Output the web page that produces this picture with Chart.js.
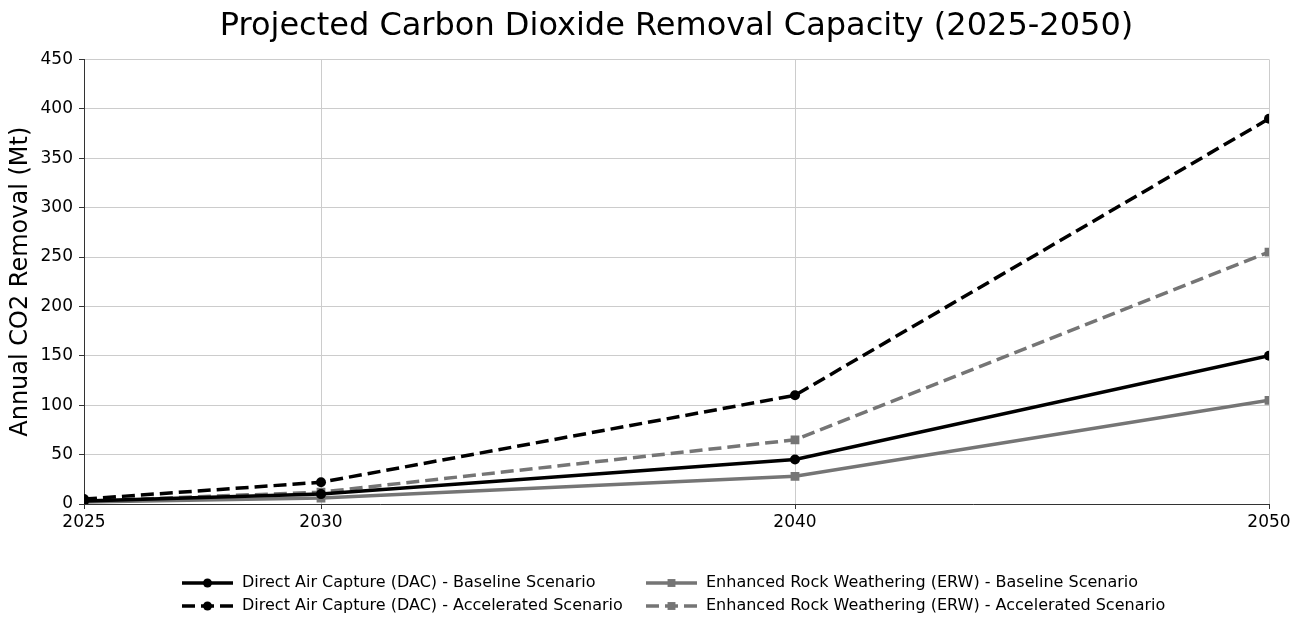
<!DOCTYPE html>
<html>
<head>
<meta charset="utf-8">
<script src="https://cdn.jsdelivr.net/npm/chart.js@4.4.1/dist/chart.umd.min.js"></script>
<style>
  html, body { margin: 0; padding: 0; background: #fff; }
  #wrap { width: 1301px; height: 631px; }
</style>
</head>
<body>
<div id="wrap"><canvas id="c" width="1301" height="631"></canvas></div>
<script>
// ---- data ----
const years = [2025, 2030, 2040, 2050];
const xTicks = [2025, 2030, 2040, 2050];
const dacBaseline = [3, 10, 45, 150];
const dacAccelerated = [5, 22, 110, 390];
const erwBaseline = [2, 6, 28, 105];
const erwAccelerated = [3, 12, 65, 255];

const BLACK = '#000000';
const GREY = '#757575';
const FONT = "'DejaVu Sans', sans-serif";

function toPoints(vals) {
  return vals.map((v, i) => ({ x: years[i], y: v }));
}

function series(label, vals, color, dashed, marker) {
  return {
    label,
    data: toPoints(vals),
    borderColor: color,
    backgroundColor: color,
    pointBackgroundColor: color,
    pointBorderColor: color,
    borderWidth: 3.5,
    borderDash: dashed ? [13, 6] : [],
    pointStyle: marker,
    pointRadius: marker === 'rect' ? 6.2 : 5,
    pointBorderWidth: 0,
    tension: 0,
    fill: false,
    clip: 0
  };
}

const datasets = [
  series('Direct Air Capture (DAC) - Baseline Scenario', dacBaseline, BLACK, false, 'circle'),
  series('Direct Air Capture (DAC) - Accelerated Scenario', dacAccelerated, BLACK, true, 'circle'),
  series('Enhanced Rock Weathering (ERW) - Baseline Scenario', erwBaseline, GREY, false, 'rect'),
  series('Enhanced Rock Weathering (ERW) - Accelerated Scenario', erwAccelerated, GREY, true, 'rect')
];

// center the title over the plot area rather than the whole canvas
const titleOverPlot = {
  id: 'titleOverPlot',
  afterLayout(chart) {
    if (chart.titleBlock) {
      chart.titleBlock.left = chart.chartArea.left;
      chart.titleBlock.right = chart.chartArea.right;
    }
  }
};

// legend laid out in two columns like the original
const columnLegend = {
  id: 'columnLegend',
  afterDraw(chart) {
    const ctx = chart.ctx;
    const colX = [182, 646];
    const rowY = [583, 606];
    ctx.save();
    chart.data.datasets.forEach((ds, i) => {
      const col = Math.floor(i / 2);
      const row = i % 2;
      const x0 = colX[col];
      const y = rowY[row];
      ctx.strokeStyle = ds.borderColor;
      ctx.lineWidth = 3.5;
      ctx.setLineDash(ds.borderDash);
      ctx.beginPath();
      ctx.moveTo(x0, y);
      ctx.lineTo(x0 + 51, y);
      ctx.stroke();
      ctx.setLineDash([]);
      ctx.fillStyle = ds.borderColor;
      Chart.helpers.drawPoint(ctx, {
        pointStyle: ds.pointStyle,
        radius: ds.pointRadius * 0.9,
        rotation: 0,
        borderWidth: 0
      }, x0 + 25.5, y);
      ctx.fillStyle = '#000';
      ctx.font = '16px ' + FONT;
      ctx.textBaseline = 'middle';
      ctx.fillText(ds.label, x0 + 60, y);
    });
    ctx.restore();
  }
};

new Chart(document.getElementById('c'), {
  type: 'line',
  data: { datasets },
  plugins: [titleOverPlot, columnLegend],
  options: {
    responsive: false,
    animation: false,
    layout: { padding: { left: 0, right: 32, top: 0, bottom: 0 } },
    plugins: {
      legend: { display: false },
      tooltip: { enabled: false },
      title: {
        display: true,
        text: 'Projected Carbon Dioxide Removal Capacity (2025-2050)',
        color: '#000',
        font: { family: FONT, size: 32, weight: 'normal' },
        padding: { top: 7, bottom: 14 }
      }
    },
    scales: {
      x: {
        type: 'linear',
        min: 2025,
        max: 2050,
        afterBuildTicks: (scale) => { scale.ticks = xTicks.map(v => ({ value: v })); },
        afterFit: (scale) => { scale.height = 127; },
        ticks: {
          color: '#000',
          font: { family: FONT, size: 17 },
          padding: 3,
          maxRotation: 0,
          callback: (v) => String(v)
        },
        grid: { color: '#cccccc', lineWidth: 1, tickLength: 5, tickColor: '#333' },
        border: { color: '#333', width: 1 }
      },
      y: {
        min: 0,
        max: 450,
        afterFit: (scale) => { scale.width = 84; },
        ticks: {
          stepSize: 50,
          color: '#000',
          font: { family: FONT, size: 17 },
          padding: 6
        },
        grid: { color: '#cccccc', lineWidth: 1, tickLength: 5, tickColor: '#333' },
        border: { color: '#333', width: 1 },
        title: {
          display: true,
          text: 'Annual CO2 Removal (Mt)',
          color: '#000',
          font: { family: FONT, size: 24 },
          padding: { top: 6, bottom: 4 }
        }
      }
    }
  }
});
</script>
</body>
</html>
